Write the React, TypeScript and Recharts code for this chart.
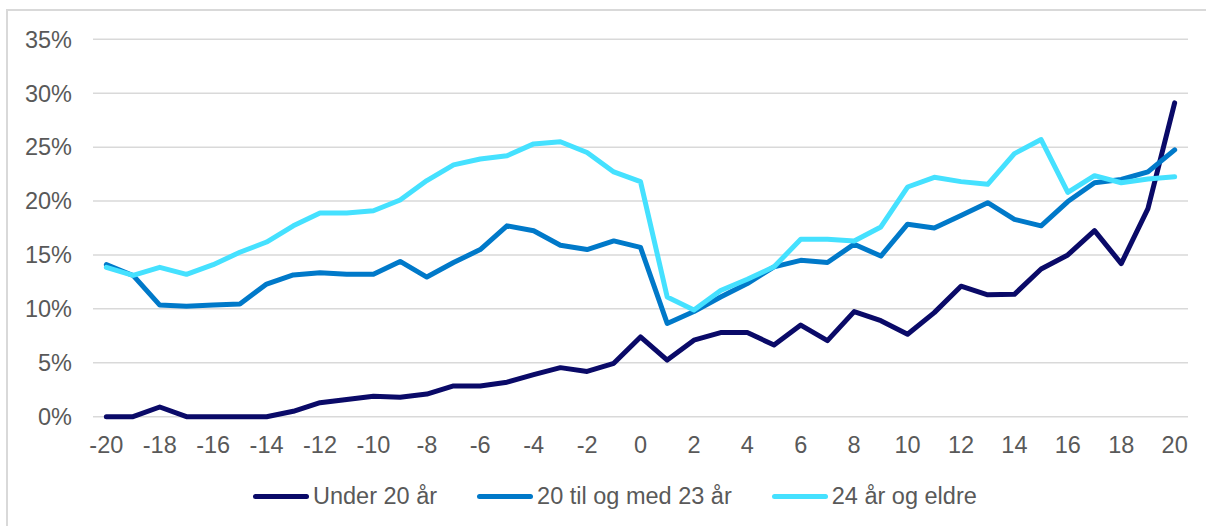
import React from "react";
import { LineChart, Line, XAxis, YAxis, CartesianGrid, Legend } from "recharts";

// quarters relative to event (x axis)
const periods = [
  -20, -19, -18, -17, -16, -15, -14, -13, -12, -11, -10, -9, -8, -7, -6, -5, -4, -3, -2, -1,
  0, 1, 2, 3, 4, 5, 6, 7, 8, 9, 10, 11, 12, 13, 14, 15, 16, 17, 18, 19, 20,
];

// share in percent
const under20 = [
  0, 0, 0.9, 0, 0, 0, 0, 0.5, 1.3, 1.6, 1.9, 1.8, 2.1, 2.85, 2.85, 3.2, 3.9, 4.55, 4.2, 4.95,
  7.4, 5.25, 7.1, 7.8, 7.8, 6.65, 8.5, 7.05, 9.75, 8.9, 7.65, 9.65, 12.1, 11.3, 11.35, 13.7, 15.0, 17.25, 14.2, 19.3, 29.1,
];
const age20to23 = [
  14.1, 13.1, 10.35, 10.25, 10.35, 10.45, 12.3, 13.15, 13.35, 13.2, 13.2, 14.4, 12.95, 14.3, 15.5, 17.7, 17.25, 15.9, 15.5, 16.3,
  15.7, 8.65, 9.75, 11.1, 12.35, 13.9, 14.5, 14.3, 16.0, 14.9, 17.85, 17.5, 18.65, 19.85, 18.3, 17.7, 19.95, 21.7, 22.0, 22.7, 24.75,
];
const age24plus = [
  13.85, 13.1, 13.85, 13.2, 14.1, 15.25, 16.2, 17.7, 18.9, 18.9, 19.1, 20.1, 21.9, 23.35, 23.9, 24.2, 25.3, 25.5, 24.5, 22.7,
  21.8, 11.1, 9.9, 11.7, 12.75, 13.9, 16.45, 16.45, 16.3, 17.6, 21.3, 22.2, 21.8, 21.55, 24.4, 25.7, 20.8, 22.35, 21.7, 22.05, 22.25,
];

const xTicks = [-20, -18, -16, -14, -12, -10, -8, -6, -4, -2, 0, 2, 4, 6, 8, 10, 12, 14, 16, 18, 20];
const yTicks = [0, 5, 10, 15, 20, 25, 30, 35];

const SERIES = [
  { key: "under20", name: "Under 20 år", color: "#0A0A68" },
  { key: "age20to23", name: "20 til og med 23 år", color: "#0079C9" },
  { key: "age24plus", name: "24 år og eldre", color: "#45E1FF" },
];

const FONT = "'Liberation Sans', Arial, sans-serif";
const TEXT = "#595959";

const data = periods.map((x, i) => ({
  x,
  under20: under20[i],
  age20to23: age20to23[i],
  age24plus: age24plus[i],
}));

function LegendContent() {
  return (
    <div style={{ display: "flex", alignItems: "center", fontFamily: FONT, fontSize: 23.5, color: TEXT }}>
      {SERIES.map((s, i) => (
        <div key={s.key} style={{ display: "flex", alignItems: "center", marginRight: i < SERIES.length - 1 ? 40 : 0 }}>
          <div style={{ width: 56, height: 5, borderRadius: 3, background: s.color, marginRight: 4 }} />
          <span style={{ whiteSpace: "nowrap" }}>{s.name}</span>
        </div>
      ))}
    </div>
  );
}

export default function App() {
  return (
    <div style={{ position: "absolute", left: 0, top: 0, width: 1206, height: 526, background: "#fff", overflow: "hidden" }}>
      {/* chart frame */}
      <div
        style={{
          position: "absolute",
          left: 6,
          top: 9,
          width: 1220,
          height: 540,
          border: "2px solid #D9D9D9",
          boxSizing: "border-box",
        }}
      />
      <LineChart
        width={1206}
        height={526}
        data={data}
        margin={{ top: 39.3, right: 18, bottom: 69.3, left: 0 }}
        style={{ position: "absolute", left: 0, top: 0 }}
      >
        <CartesianGrid vertical={false} stroke="#D9D9D9" strokeWidth={1.5} />
        <XAxis
          dataKey="x"
          type="number"
          domain={[-20.5, 20.5]}
          ticks={xTicks}
          interval={0}
          axisLine={false}
          tickLine={false}
          tickSize={0}
          tickMargin={20}
          height={40}
          tick={{ fill: TEXT, fontSize: 23.5, fontFamily: FONT }}
        />
        <YAxis
          type="number"
          domain={[0, 35]}
          ticks={yTicks}
          interval={0}
          axisLine={false}
          tickLine={false}
          tickSize={0}
          tickMargin={21}
          width={93}
          tickFormatter={(v) => `${v}%`}
          tick={{ fill: TEXT, fontSize: 23.5, fontFamily: FONT }}
        />
        {SERIES.map((s) => (
          <Line
            key={s.key}
            type="linear"
            dataKey={s.key}
            name={s.name}
            stroke={s.color}
            strokeWidth={5}
            strokeLinejoin="round"
            strokeLinecap="round"
            dot={false}
            activeDot={false}
            isAnimationActive={false}
          />
        ))}
        <Legend
          verticalAlign="middle"
          align="center"
          content={<LegendContent />}
          wrapperStyle={{ top: 483, left: 253, width: 800, height: 28 }}
        />
      </LineChart>
    </div>
  );
}
